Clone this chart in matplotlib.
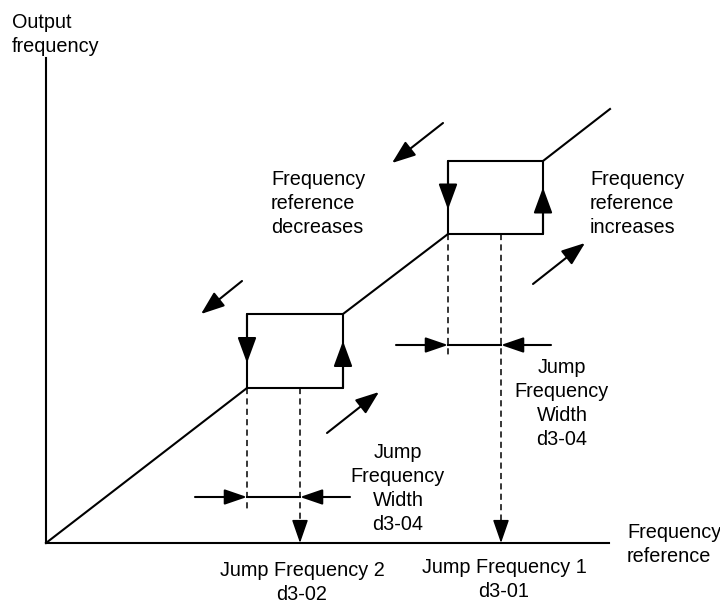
import matplotlib
matplotlib.use("Agg")
import matplotlib.pyplot as plt

plt.rcParams['font.family'] = ['Liberation Sans', 'DejaVu Sans']

# diagram geometry, pixel coords (y down)
origin = (46, 543)
y_axis_top = 58
x_axis_end = 609
line_end = (610, 109)
box_low = [247, 343, 314, 388]    # left, right, top, bottom
box_high = [448, 543, 161, 234]
width_low_y = 497
width_high_y = 345
motion_arrows = [((443, 123), (392, 163)),
                 ((242, 281), (201, 314)),
                 ((327, 433), (379, 392)),
                 ((533, 284), (585, 243))]

fig = plt.figure(figsize=(7.2, 6.04), dpi=100)
ax = fig.add_axes([0, 0, 1, 1])
ax.set_xlim(0, 720)
ax.set_ylim(604, 0)
ax.axis('off')

LW = 1.5
DASH = dict(color='black', lw=1.1, linestyle=(0, (4, 2.8)))


def arrow(tail, tip, hl=20, hw=14, lw=LW):
    style = '-|>,head_length=%.2f,head_width=%.2f' % (hl / 13.89, hw / 27.78)
    ax.annotate('', xy=tip, xytext=tail,
                arrowprops=dict(arrowstyle=style, lw=lw, color='black',
                                shrinkA=0, shrinkB=0, mutation_scale=10))


def lines(x, y0, txt, ha='left'):
    for i, t in enumerate(txt):
        ax.text(x, y0 + 24 * i, t, ha=ha, va='baseline', fontsize=14.3)


# axes
ax.plot([origin[0], origin[0]], [origin[1], y_axis_top], color='black', lw=LW)
ax.plot([origin[0], x_axis_end], [origin[1], origin[1]], color='black', lw=LW)

# frequency curve with the two jump boxes
ax.plot([origin[0], box_low[0]], [origin[1], box_low[3]], color='black', lw=LW)
ax.plot([box_low[1], box_high[0]], [box_low[2], box_high[3]], color='black', lw=LW)
ax.plot([box_high[1], line_end[0]], [box_high[2], line_end[1]], color='black', lw=LW)
for l, r, t, b in (box_low, box_high):
    ax.plot([l, l, r, r, l], [b, t, t, b, b], color='black', lw=LW)
    mid = (t + b) / 2
    arrow((l, t), (l, mid + 12), hl=22, hw=16)
    arrow((r, b), (r, mid - 10), hl=22, hw=16)

# dashed drops
ax.plot([box_low[0]] * 2, [box_low[3], 510], **DASH)
ax.plot([300] * 2, [box_low[3], 530], **DASH)
arrow((300, 522), (300, origin[1]), hl=20, hw=14, lw=1.1)
ax.plot([box_high[0]] * 2, [box_high[3], 357], **DASH)
ax.plot([501] * 2, [box_high[3], 530], **DASH)
arrow((501, 522), (501, origin[1]), hl=20, hw=14, lw=1.1)

# width markers
for y, a, b in ((width_low_y, box_low[0], 300), (width_high_y, box_high[0], 501)):
    ax.plot([a, b], [y, y], color='black', lw=LW)
    arrow((a - 52, y), (a, y), hl=19, hw=13)
    arrow((b + 50, y), (b, y), hl=19, hw=13)

for tail, tip in motion_arrows:
    arrow(tail, tip, hl=20, hw=15)

lines(12, 28, ['Output', 'frequency'])
lines(271, 185, ['Frequency', 'reference', 'decreases'])
lines(590, 185, ['Frequency', 'reference', 'increases'])
lines(562, 373, ['Jump', 'Frequency', 'Width', 'd3-04'], ha='center')
lines(398, 458, ['Jump', 'Frequency', 'Width', 'd3-04'], ha='center')
lines(302, 576, ['Jump Frequency 2', 'd3-02'], ha='center')
lines(504, 573, ['Jump Frequency 1', 'd3-01'], ha='center')
lines(627, 538, ['Frequency', 'reference'])

fig.savefig('out.png', dpi=100)
